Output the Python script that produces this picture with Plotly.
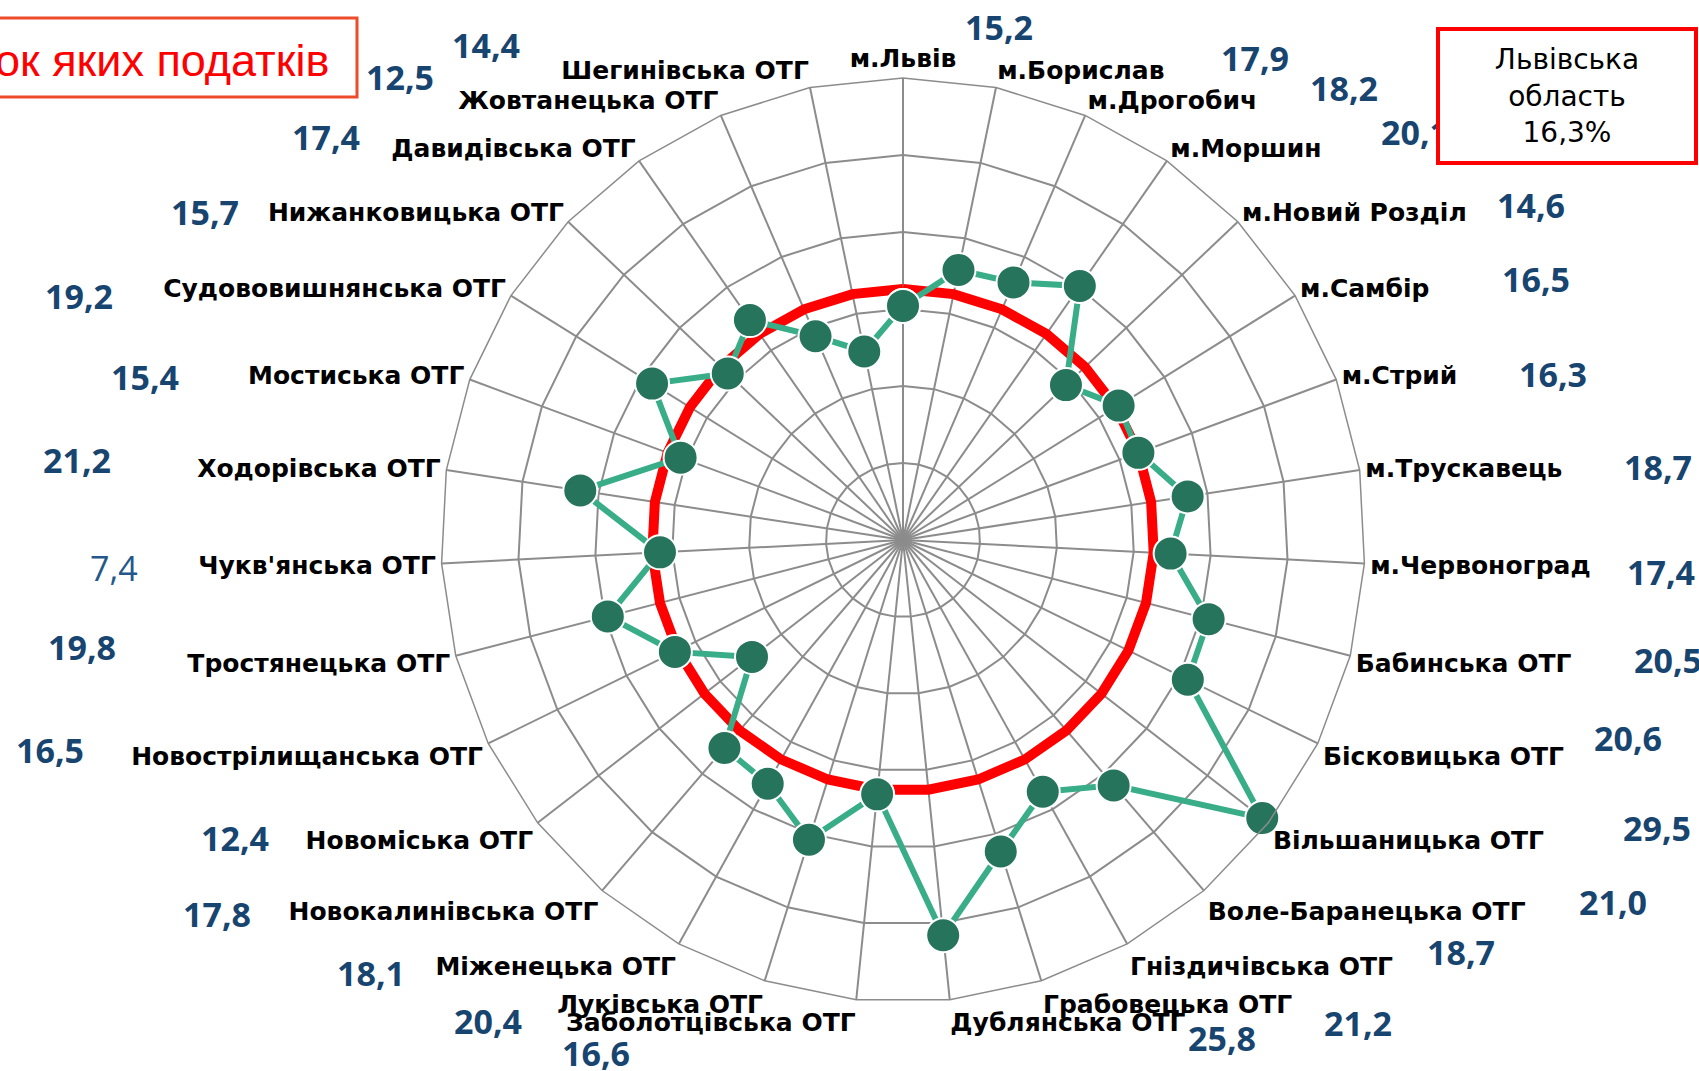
import plotly.graph_objects as go

# ---------------- data ----------------
categories = [
    "м.Львів", "м.Борислав", "м.Дрогобич", "м.Моршин", "м.Новий Розділ",
    "м.Самбір", "м.Стрий", "м.Трускавець", "м.Червоноград", "Бабинська ОТГ",
    "Бісковицька ОТГ", "Вільшаницька ОТГ", "Воле-Баранецька ОТГ",
    "Гніздичівська ОТГ", "Грабовецька ОТГ", "Дублянська ОТГ",
    "Заболотцівська ОТГ", "Луківська ОТГ", "Міженецька ОТГ",
    "Новокалинівська ОТГ", "Новоміська ОТГ", "Новострілищанська ОТГ",
    "Тростянецька ОТГ", "Чукв'янська ОТГ", "Ходорівська ОТГ",
    "Мостиська ОТГ", "Судововишнянська ОТГ", "Нижанковицька ОТГ",
    "Давидівська ОТГ", "Жовтанецька ОТГ", "Шегинівська ОТГ",
]
values = [15.2, 17.9, 18.2, 20.1, 14.6, 16.5, 16.3, 18.7, 17.4, 20.5,
          20.6, 29.5, 21.0, 18.7, 21.2, 25.8, 16.6, 20.4, 18.1, 17.8,
          12.4, 16.5, 19.8, 15.8, 21.2, 15.4, 19.2, 15.7, 17.4, 14.4, 12.5]
value_labels = ["15,2", "17,9", "18,2", "20,1", "14,6", "16,5", "16,3", "18,7",
                "17,4", "20,5", "20,6", "29,5", "21,0", "18,7", "21,2", "25,8",
                "16,6", "20,4", "18,1", "17,8", "12,4", "16,5", "19,8", "7,4",
                "21,2", "15,4", "19,2", "15,7", "17,4", "14,4", "12,5"]
region_value = 16.3
region_text = ["Львівська", "область", "16,3%"]
title_fragment = "ок яких податків"

# ---------------- layout helpers (pixel positions of free text) ----------------
W, H = 1699, 1071
label_px = [(999, 27), (1255, 58), (1344, 88), (1415, 132), (1531, 205),
            (1536, 279), (1553, 374), (1658, 467), (1661, 572), (1668, 660),
            (1628, 738), (1657, 828), (1613, 902), (1461, 952), (1358, 1023),
            (1222, 1038), (596, 1053), (488, 1021), (371, 973), (217, 914),
            (235, 838), (50, 750), (82, 647), (114, 568), (77, 460),
            (145, 377), (79, 296), (205, 212), (326, 137), (486, 45), (400, 77)]
light_labels = {23}

cx, cy, R = 903, 540, 462
GRID = "#8C8C8C"
VAL_COLOR = "#17456F"

fig = go.Figure()
theta_closed = categories + [categories[0]]

fig.add_trace(go.Scatterpolar(
    r=[region_value] * (len(categories) + 1), theta=theta_closed,
    mode="lines", line=dict(color="#FF0000", width=10),
    hoverinfo="skip", showlegend=False))

fig.add_trace(go.Scatterpolar(
    r=values + [values[0]], theta=theta_closed,
    mode="lines+markers",
    line=dict(color="#38AD88", width=6),
    marker=dict(size=34, color="#26745B", line=dict(color="white", width=2)),
    showlegend=False))

annotations = []
for i, (txt, (px, py)) in enumerate(zip(value_labels, label_px)):
    light = i in light_labels
    annotations.append(dict(
        x=px / W, y=1 - py / H, xref="paper", yref="paper",
        xanchor="center", yanchor="middle", showarrow=False, text=txt,
        font=dict(family="Open Sans", size=34,
                  color="#24588A" if light else VAL_COLOR,
                  weight="normal" if light else "bold")))

# region box (drawn on top of the partially hidden label)
annotations.append(dict(
    x=1436 / W, y=1 - 27 / H, xref="paper", yref="paper",
    xanchor="left", yanchor="top", showarrow=False,
    text="<br>".join(region_text), align="center",
    width=250, height=126, borderwidth=4, borderpad=2,
    bordercolor="#FF0000", bgcolor="white",
    font=dict(family="DejaVu Sans", size=28, color="black")))

# cropped title box on the left
annotations.append(dict(
    x=331 / W, y=1 - 60 / H, xref="paper", yref="paper",
    xanchor="right", yanchor="middle", showarrow=False,
    text=title_fragment,
    font=dict(family="Liberation Sans Narrow, Liberation Sans", size=45, color="#FF0000")))

shapes = [dict(type="rect", xref="paper", yref="paper",
               x0=-12 / W, x1=357 / W, y0=1 - 97 / H, y1=1 - 18 / H,
               line=dict(color="#EE4B2B", width=3), fillcolor="rgba(0,0,0,0)")]

fig.update_layout(
    width=W, height=H, margin=dict(l=0, r=0, t=0, b=0),
    paper_bgcolor="white", showlegend=False,
    polar=dict(
        domain=dict(x=[(cx - R) / W, (cx + R) / W],
                    y=[1 - (cy + R) / H, 1 - (cy - R) / H]),
        gridshape="linear", bgcolor="white",
        angularaxis=dict(
            type="category", categoryarray=categories,
            rotation=90, direction="clockwise",
            tickfont=dict(family="DejaVu Sans", size=25, color="black", weight="bold"),
            showline=True, linecolor=GRID, linewidth=1.5,
            showgrid=True, gridcolor=GRID, gridwidth=1.5, ticks=""),
        radialaxis=dict(
            range=[0, 30], dtick=5, showticklabels=False, ticks="",
            showline=False, showgrid=True, gridcolor=GRID, gridwidth=1.5)),
    annotations=annotations, shapes=shapes)

fig.write_html("out.html", config={"displayModeBar": False},
               post_script="document.body.style.margin='0';")
